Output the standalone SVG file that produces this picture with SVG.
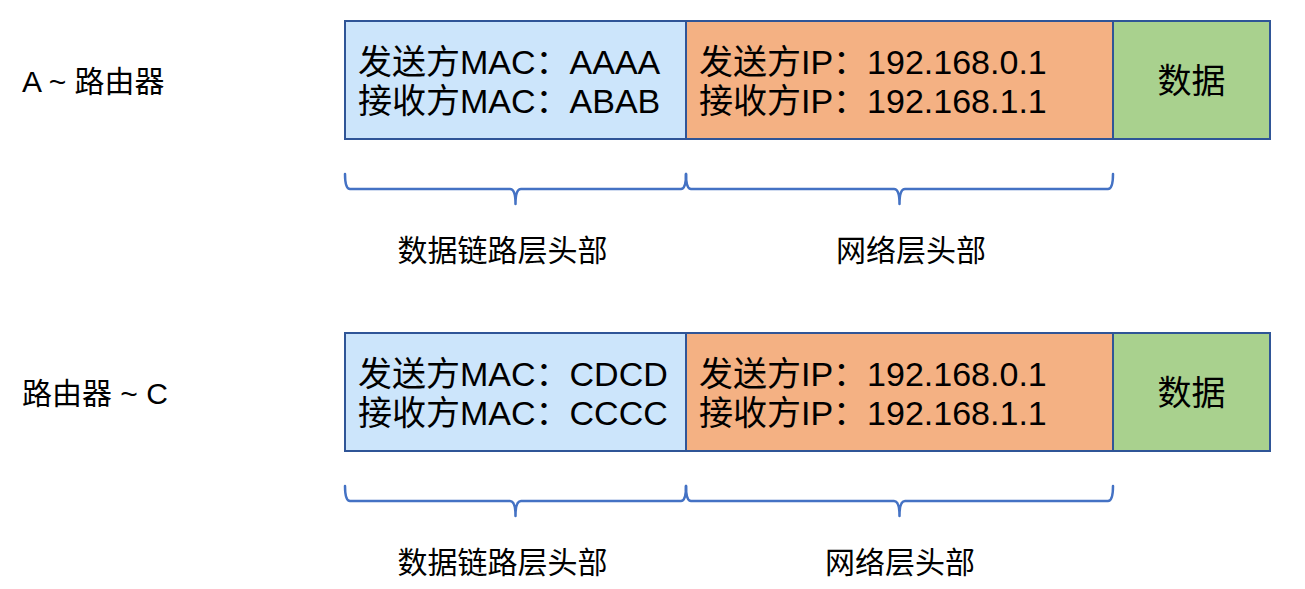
<svg xmlns="http://www.w3.org/2000/svg" width="1305" height="589" viewBox="0 0 1305 589">
<style>
text{font-family:"Liberation Sans","Noto Sans CJK SC",sans-serif;fill:#000}
.box{stroke:#2F5597;stroke-width:2}
.mac{fill:#CCE5FB}
.ip{fill:#F4B183}
.data{fill:#A9D18E}
.t{font-size:34px}
.l{font-size:30px}
.brace{fill:none;stroke:#4472C4;stroke-width:2.5;stroke-linejoin:round;stroke-linecap:round}
</style>
<rect width="1305" height="589" fill="#fff"/>
<g id="label-a-router"><text class="l" x="22" y="92">A ~ 路由器</text></g>
<g id="label-router-c"><text class="l" x="22" y="404">路由器 ~ C</text></g>
<g id="frame1">
<g id="mac1"><rect class="box mac" x="345" y="21" width="341" height="118"/>
<text class="t" x="358" y="74">发送方MAC：AAAA</text>
<text class="t" x="358" y="113">接收方MAC：ABAB</text></g>
<g id="ip1"><rect class="box ip" x="686" y="21" width="427" height="118"/>
<text class="t" x="699" y="74">发送方IP：192.168.0.1</text>
<text class="t" x="699" y="113">接收方IP：192.168.1.1</text></g>
<g id="data1"><rect class="box data" x="1113" y="21" width="157" height="118"/>
<text class="t" x="1191.5" y="93" text-anchor="middle">数据</text></g>
</g>
<g id="frame2">
<g id="mac2"><rect class="box mac" x="345" y="333" width="341" height="118"/>
<text class="t" x="358" y="386">发送方MAC：CDCD</text>
<text class="t" x="358" y="425">接收方MAC：CCCC</text></g>
<g id="ip2"><rect class="box ip" x="686" y="333" width="427" height="118"/>
<text class="t" x="699" y="386">发送方IP：192.168.0.1</text>
<text class="t" x="699" y="425">接收方IP：192.168.1.1</text></g>
<g id="data2"><rect class="box data" x="1113" y="333" width="157" height="118"/>
<text class="t" x="1191.5" y="405" text-anchor="middle">数据</text></g>
</g>
<g id="connectors">
<path class="brace" d="M345,174 Q345,189 350,189 H510 Q515.5,189 515.5,204 Q515.5,189 521,189 H681 Q686,189 686,174"/>
<path class="brace" d="M686,174 Q686,189 691,189 H894 Q899.5,189 899.5,204 Q899.5,189 905,189 H1108 Q1113,189 1113,174"/>
<path class="brace" d="M345,486 Q345,501 350,501 H510 Q515.5,501 515.5,516 Q515.5,501 521,501 H681 Q686,501 686,486"/>
<path class="brace" d="M686,486 Q686,501 691,501 H894 Q899.5,501 899.5,516 Q899.5,501 905,501 H1108 Q1113,501 1113,486"/>
</g>
<g id="label-dl1"><text class="l" x="502.5" y="261" text-anchor="middle">数据链路层头部</text></g>
<g id="label-nl1"><text class="l" x="911" y="261" text-anchor="middle">网络层头部</text></g>
<g id="label-dl2"><text class="l" x="502.5" y="573" text-anchor="middle">数据链路层头部</text></g>
<g id="label-nl2"><text class="l" x="900" y="573" text-anchor="middle">网络层头部</text></g>
</svg>
